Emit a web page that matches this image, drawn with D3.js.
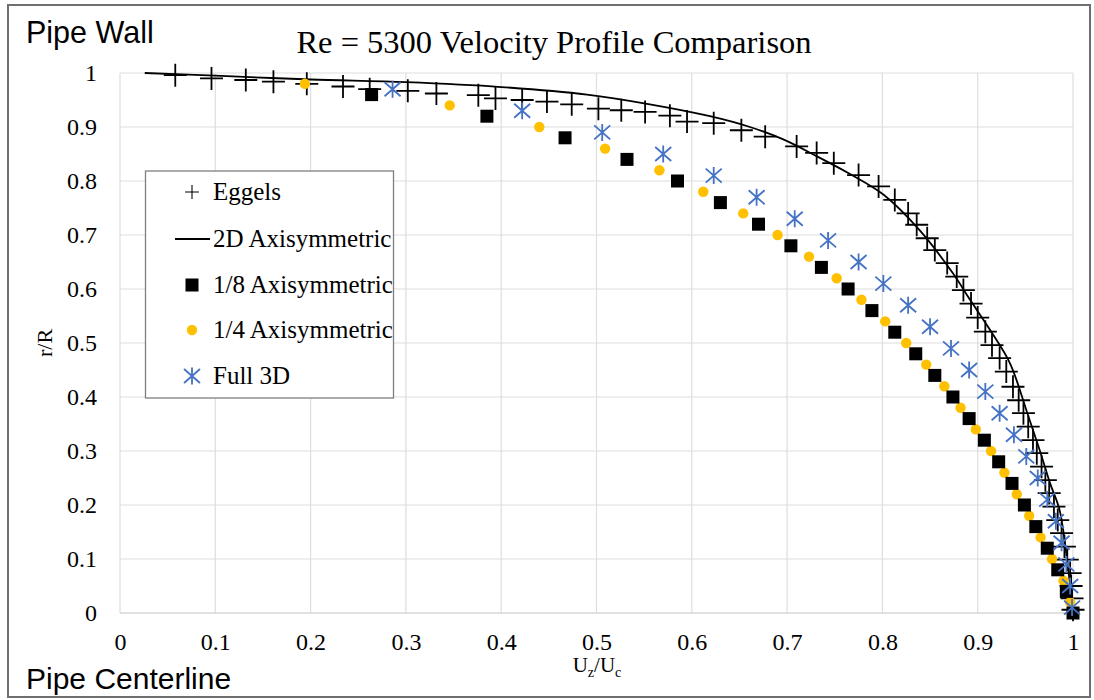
<!DOCTYPE html>
<html>
<head>
<meta charset="utf-8">
<script src="https://cdn.jsdelivr.net/npm/d3@7"></script>
<style>
  body { margin: 0; background: #fff; }
  svg { display: block; }
  .serif { font-family: "Liberation Serif", "Times New Roman", serif; fill: #000; }
  .sans { font-family: "Liberation Sans", Arial, sans-serif; fill: #000; }
</style>
</head>
<body>
<div id="chart"></div>
<script>
// ---- data ----
const xTicks = [0, 0.1, 0.2, 0.3, 0.4, 0.5, 0.6, 0.7, 0.8, 0.9, 1]
const yTicks = [0, 0.1, 0.2, 0.3, 0.4, 0.5, 0.6, 0.7, 0.8, 0.9, 1]
const tickLabels = ["0", "0.1", "0.2", "0.3", "0.4", "0.5", "0.6", "0.7", "0.8", "0.9", "1"]

const seriesNames = ["Eggels", "2D Axisymmetric", "1/8 Axisymmetric", "1/4 Axisymmetric", "Full 3D"]

// Eggels (+)
const eggelsU = [0.058, 0.096, 0.132, 0.161, 0.196, 0.234, 0.262, 0.302, 0.332, 0.376, 0.394, 0.422, 0.448, 0.474,
    0.502, 0.526, 0.551, 0.577, 0.595, 0.623, 0.652, 0.677, 0.710, 0.731, 0.749, 0.775, 0.796, 0.813, 0.827,
    0.836, 0.847, 0.855, 0.868, 0.878, 0.885, 0.893, 0.900, 0.908, 0.915, 0.923, 0.930, 0.937, 0.943, 0.948,
    0.953, 0.958, 0.962, 0.967, 0.971, 0.975, 0.980, 0.984, 0.988, 0.991, 0.994, 0.997, 0.998, 0.999, 1.0]
const eggelsR = [0.996, 0.990, 0.987, 0.984, 0.980, 0.975, 0.970, 0.967, 0.962, 0.959, 0.953, 0.950, 0.947, 0.942,
    0.934, 0.931, 0.928, 0.921, 0.910, 0.907, 0.894, 0.882, 0.864, 0.852, 0.833, 0.811, 0.790, 0.765, 0.740,
    0.719, 0.694, 0.672, 0.648, 0.623, 0.598, 0.573, 0.547, 0.521, 0.496, 0.472, 0.447, 0.419, 0.394, 0.370,
    0.345, 0.320, 0.296, 0.271, 0.246, 0.222, 0.197, 0.172, 0.148, 0.123, 0.099, 0.074, 0.050, 0.027, 0.006]

// 2D Axisymmetric (line)
const axi2dU = [0.026, 0.10, 0.20, 0.30, 0.40, 0.49, 0.556, 0.619, 0.661, 0.696, 0.731, 0.766, 0.801, 0.839,
    0.874, 0.892, 0.913, 0.934, 0.951, 0.965, 0.976, 0.986, 0.995, 1.0]
const axi2dR = [1.0, 0.995, 0.988, 0.983, 0.974, 0.960, 0.942, 0.920, 0.900, 0.877, 0.846, 0.813, 0.775, 0.709,
    0.629, 0.580, 0.524, 0.462, 0.376, 0.302, 0.240, 0.190, 0.080, 0.0]

// 1/8 Axisymmetric (squares)
const eighthU = [0.264, 0.385, 0.467, 0.532, 0.585, 0.630, 0.670, 0.704, 0.736, 0.764, 0.789, 0.813, 0.835,
    0.855, 0.874, 0.891, 0.907, 0.922, 0.936, 0.949, 0.961, 0.973, 0.984, 0.993, 1.0]
const eighthR = [0.96, 0.92, 0.88, 0.84, 0.80, 0.76, 0.72, 0.68, 0.64, 0.60, 0.56, 0.52, 0.48, 0.44, 0.40,
    0.36, 0.32, 0.28, 0.24, 0.20, 0.16, 0.12, 0.08, 0.04, 0.00]

// 1/4 Axisymmetric (dots)
const quarterU = [0.194, 0.346, 0.440, 0.509, 0.566, 0.612, 0.654, 0.690, 0.723, 0.752, 0.778, 0.803, 0.825,
    0.846, 0.865, 0.882, 0.898, 0.914, 0.928, 0.941, 0.954, 0.966, 0.978, 0.990, 0.997]
const quarterR = [0.98, 0.94, 0.90, 0.86, 0.82, 0.78, 0.74, 0.70, 0.66, 0.62, 0.58, 0.54, 0.50, 0.46, 0.42,
    0.38, 0.34, 0.30, 0.26, 0.22, 0.18, 0.14, 0.10, 0.06, 0.02]

// Full 3D (asterisks)
const full3dU = [0.286, 0.422, 0.506, 0.570, 0.623, 0.668, 0.708, 0.743, 0.775, 0.801, 0.827, 0.850, 0.872,
    0.891, 0.908, 0.923, 0.938, 0.951, 0.963, 0.973, 0.982, 0.988, 0.993, 0.997, 0.999]
const full3dR = [0.97, 0.93, 0.89, 0.85, 0.81, 0.77, 0.73, 0.69, 0.65, 0.61, 0.57, 0.53, 0.49, 0.45, 0.41,
    0.37, 0.33, 0.29, 0.25, 0.21, 0.17, 0.13, 0.09, 0.05, 0.01]

// ---- layout ----
const W = 1094, H = 700
const plot = { left: 120, right: 1073, top: 73, bottom: 613 }

const zip = (us, rs) => us.map((u, i) => ({ u: u, r: rs[i] }))

const svg = d3.select("#chart").append("svg")
    .attr("width", W)
    .attr("height", H)

svg.append("rect").attr("width", W).attr("height", H).attr("fill", "#fff")

// outer frame
svg.append("rect")
    .attr("x", 8).attr("y", 5)
    .attr("width", 1082).attr("height", 692)
    .attr("fill", "none")
    .attr("stroke", "#6f6f6f")
    .attr("stroke-width", 2)

const x = d3.scaleLinear().domain([0, 1]).range([plot.left, plot.right])
const y = d3.scaleLinear().domain([0, 1]).range([plot.bottom, plot.top])

function label(parent, px, py, txt, cls, size) {
    return parent.append("text")
        .attr("class", cls)
        .attr("x", px).attr("y", py)
        .style("font-size", size)
        .text(txt)
}

// grid
const grid = svg.append("g")
grid.selectAll("line.v").data(xTicks).enter().append("line")
    .attr("x1", d => x(d)).attr("x2", d => x(d))
    .attr("y1", y(0)).attr("y2", y(1))
    .attr("stroke", "#dedede").attr("stroke-width", 1.2)
grid.selectAll("line.h").data(yTicks).enter().append("line")
    .attr("x1", x(0)).attr("x2", x(1))
    .attr("y1", d => y(d)).attr("y2", d => y(d))
    .attr("stroke", d => d === 0 ? "#c4c4c4" : "#dedede").attr("stroke-width", 1.2)

// axes (labels only)
const fmt = d => tickLabels[xTicks.indexOf(d)]
const xAxis = svg.append("g")
    .attr("transform", `translate(0,${plot.bottom})`)
    .call(d3.axisBottom(x).tickValues(xTicks).tickFormat(fmt).tickSize(0).tickPadding(20))
const yAxis = svg.append("g")
    .attr("transform", `translate(${plot.left},0)`)
    .call(d3.axisLeft(y).tickValues(yTicks).tickFormat(fmt).tickSize(0).tickPadding(23))
for (const ax of [xAxis, yAxis]) {
    ax.select(".domain").remove()
    ax.selectAll("text")
        .attr("class", "serif")
        .style("font-size", "24px")
        .attr("fill", "#000")
}

// 2D axisymmetric line
const line = d3.line()
    .x(d => x(d.u))
    .y(d => y(d.r))
    .curve(d3.curveCatmullRom)
svg.append("path")
    .datum(zip(axi2dU, axi2dR))
    .attr("d", line)
    .attr("fill", "none")
    .attr("stroke", "#000")
    .attr("stroke-width", 1.8)

// marker shapes
const plusPath = "M-11.5,0H11.5M0,-11.5V11.5"
const starPath = "M0,-8.5V8.5M-8,-7L8,7M-8,7L8,-7"

function drawPlus(g) {
    g.append("path").attr("d", plusPath).attr("stroke", "#000").attr("stroke-width", 1.8).attr("fill", "none")
}
function drawSquare(g) {
    g.append("rect").attr("x", -6.5).attr("y", -6.5).attr("width", 13).attr("height", 13).attr("fill", "#000")
}
function drawDot(g) {
    g.append("circle").attr("r", 5.2).attr("fill", "#ffc000")
}
function drawStar(g) {
    g.append("path").attr("d", starPath).attr("stroke", "#4472c4").attr("stroke-width", 1.8).attr("fill", "none")
}

function scatter(data, draw) {
    svg.append("g").selectAll("g").data(data).enter().append("g")
        .attr("transform", d => `translate(${x(d.u)},${y(d.r)})`)
        .each(function () { draw(d3.select(this)) })
}

scatter(zip(eggelsU, eggelsR), drawPlus)
scatter(zip(quarterU, quarterR), drawDot)
scatter(zip(eighthU, eighthR), drawSquare)
scatter(zip(full3dU, full3dR), drawStar)

// legend
const legend = svg.append("g")
legend.append("rect")
    .attr("x", 145.5).attr("y", 171)
    .attr("width", 248).attr("height", 227)
    .attr("fill", "#fff")
    .attr("stroke", "#7f7f7f")
    .attr("stroke-width", 1.3)

const legendY = [192, 239, 285, 330, 376]
const drawers = [drawPlus, null, drawSquare, drawDot, drawStar]
seriesNames.forEach((name, i) => {
    const g = legend.append("g").attr("transform", `translate(192,${legendY[i]})`)
    if (drawers[i]) {
        const m = g.append("g").attr("transform", i === 0 ? "scale(0.6)" : "")
        drawers[i](m)
    } else {
        g.append("line").attr("x1", -17).attr("x2", 18).attr("stroke", "#000").attr("stroke-width", 1.8)
    }
    label(legend, 213, legendY[i] + 8, name, "serif", "25px")
})

// titles
label(svg, 554, 53, "Re = 5300 Velocity Profile Comparison", "serif", "32.5px")
    .attr("text-anchor", "middle")
label(svg, 26, 43, "Pipe Wall", "sans", "30.5px")
label(svg, 26, 689, "Pipe Centerline", "sans", "30px")

// axis titles
svg.append("text")
    .attr("class", "serif")
    .attr("transform", "translate(52,343) rotate(-90)")
    .attr("text-anchor", "middle")
    .style("font-size", "22px")
    .text("r/R")

const xt = svg.append("text")
    .attr("class", "serif")
    .attr("x", 597).attr("y", 672)
    .attr("text-anchor", "middle")
    .style("font-size", "21px")
xt.append("tspan").text("U")
xt.append("tspan").attr("dy", 5).style("font-size", "14px").text("z")
xt.append("tspan").attr("dy", -5).text("/U")
xt.append("tspan").attr("dy", 5).style("font-size", "14px").text("c")
</script>
</body>
</html>
